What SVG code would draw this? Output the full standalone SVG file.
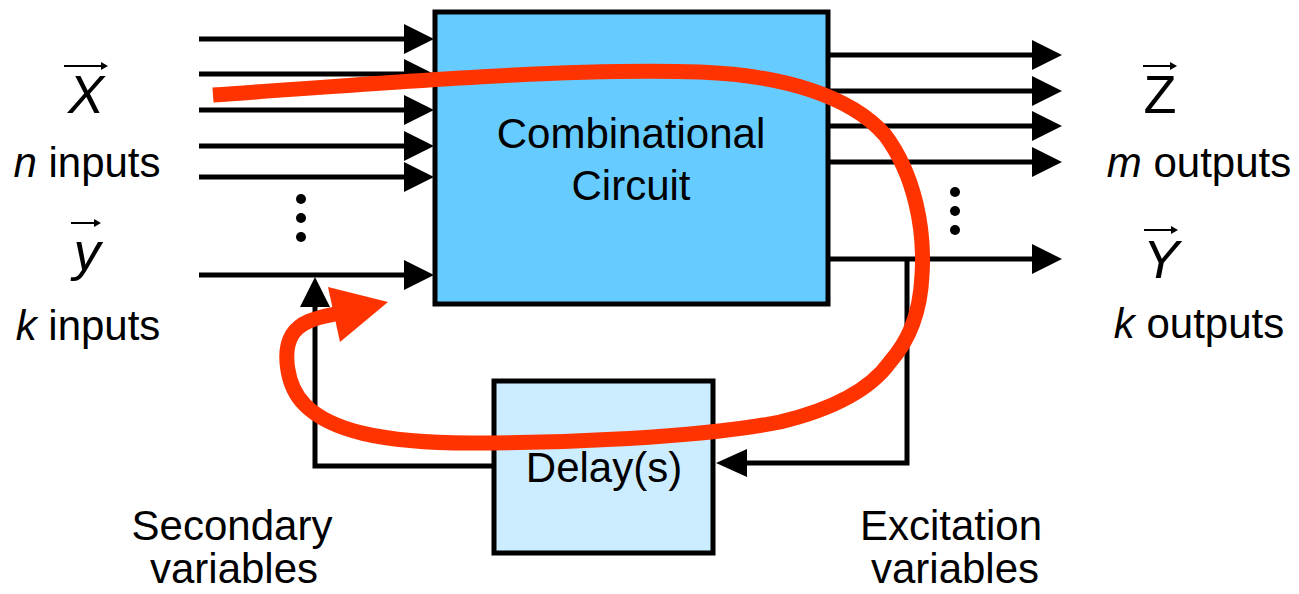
<svg xmlns="http://www.w3.org/2000/svg" width="1299" height="594" viewBox="0 0 1299 594">
<defs>
<style>
.t{font-family:"Liberation Sans",Arial,sans-serif;font-size:42px;fill:#000}
.s{font-family:"Liberation Sans",Arial,sans-serif;font-size:54px;fill:#000}
.ln{stroke:#000;stroke-width:5;fill:none}
.ah{fill:#000}
.va{stroke:#000;stroke-width:2;fill:none}
</style>
</defs>
<rect width="1299" height="594" fill="#fff"/>
<g id="connectors">
<g class="ln">
<line x1="199" y1="39" x2="406" y2="39"/>
<line x1="199" y1="74" x2="406" y2="74"/>
<line x1="199" y1="110" x2="406" y2="110"/>
<line x1="199" y1="146" x2="406" y2="146"/>
<line x1="199" y1="177" x2="406" y2="177"/>
<line x1="199" y1="275" x2="406" y2="275"/>
<line x1="828" y1="55" x2="1034" y2="55"/>
<line x1="828" y1="91" x2="1034" y2="91"/>
<line x1="828" y1="126" x2="1034" y2="126"/>
<line x1="828" y1="162" x2="1034" y2="162"/>
<line x1="828" y1="259" x2="1034" y2="259"/>
<polyline points="907,259 907,463 745,463"/>
<polyline points="493,466 315,466 315,304"/>
</g>
<g class="ah">
<polygon points="404,24 434,39 404,54"/>
<polygon points="404,59 434,74 404,89"/>
<polygon points="404,95 434,110 404,125"/>
<polygon points="404,131 434,146 404,161"/>
<polygon points="404,162 434,177 404,192"/>
<polygon points="404,260 434,275 404,290"/>
<polygon points="1032,40 1062,55 1032,70"/>
<polygon points="1032,76 1062,91 1032,106"/>
<polygon points="1032,111 1062,126 1032,141"/>
<polygon points="1032,147 1062,162 1032,177"/>
<polygon points="1032,244 1062,259 1032,274"/>
<polygon points="747,449 716,463 747,477"/>
<polygon points="300,307 315,277 330,307"/>
<circle cx="301" cy="199" r="5"/>
<circle cx="301" cy="218" r="5"/>
<circle cx="301" cy="237" r="5"/>
<circle cx="955" cy="192" r="5"/>
<circle cx="955" cy="211" r="5"/>
<circle cx="955" cy="230" r="5"/>
</g>
</g>
<g id="combinational">
<rect x="435" y="12" width="393" height="292" fill="#66CCFF" stroke="#000" stroke-width="5"/>
<text class="t" x="631" y="148" text-anchor="middle">Combinational</text>
<text class="t" x="631" y="200" text-anchor="middle">Circuit</text>
</g>
<g id="delay">
<rect x="494" y="381" width="219" height="172" fill="#CCECFF" stroke="#000" stroke-width="5"/>
<text class="t" x="604" y="482" text-anchor="middle">Delay(s)</text>
</g>
<g id="label-x">
<text class="s" x="86" y="113" text-anchor="middle" font-style="italic">X</text>
<line class="va" x1="64" y1="66" x2="103" y2="66"/>
<polygon points="101,62 108,66 101,70" class="ah"/>
<text class="t" x="87" y="177" text-anchor="middle"><tspan font-style="italic">n</tspan> inputs</text>
</g>
<g id="label-y">
<text class="s" x="87" y="270" text-anchor="middle" font-style="italic">y</text>
<line class="va" x1="71" y1="223" x2="96" y2="223"/>
<polygon points="94,219 101,223 94,227" class="ah"/>
<text class="t" x="88" y="340" text-anchor="middle"><tspan font-style="italic">k</tspan> inputs</text>
</g>
<g id="label-z">
<text class="s" x="1160" y="113" text-anchor="middle">Z</text>
<line class="va" x1="1143" y1="66" x2="1172" y2="66"/>
<polygon points="1170,62 1177,66 1170,70" class="ah"/>
<text class="t" x="1199" y="177" text-anchor="middle"><tspan font-style="italic">m</tspan> outputs</text>
</g>
<g id="label-yout">
<text class="s" x="1161" y="278" text-anchor="middle" font-style="italic">Y</text>
<line class="va" x1="1144" y1="230" x2="1173" y2="230"/>
<polygon points="1171,226 1178,230 1171,234" class="ah"/>
<text class="t" x="1199" y="338" text-anchor="middle"><tspan font-style="italic">k</tspan> outputs</text>
</g>
<g id="label-secondary">
<text class="t" x="232" y="540" text-anchor="middle">Secondary</text>
<text class="t" x="234" y="583" text-anchor="middle">variables</text>
</g>
<g id="label-excitation">
<text class="t" x="951" y="540" text-anchor="middle">Excitation</text>
<text class="t" x="955" y="583" text-anchor="middle">variables</text>
</g>
<g id="red-loop">
<path d="M 213 95 C 400 82, 560 68, 700 72 C 780 75, 850 95, 885 135 C 915 175, 925 230, 922 275 C 920 320, 905 345, 890 362 C 870 390, 830 410, 780 422 C 700 438, 560 443, 470 443 C 380 443, 330 430, 305 405 C 285 385, 283 350, 292 335 C 300 322, 315 318, 335 314" fill="none" stroke="#FF3300" stroke-width="15"/>
<polygon points="328,287 388,302 340,342" fill="#FF3300"/>
</g>
</svg>
